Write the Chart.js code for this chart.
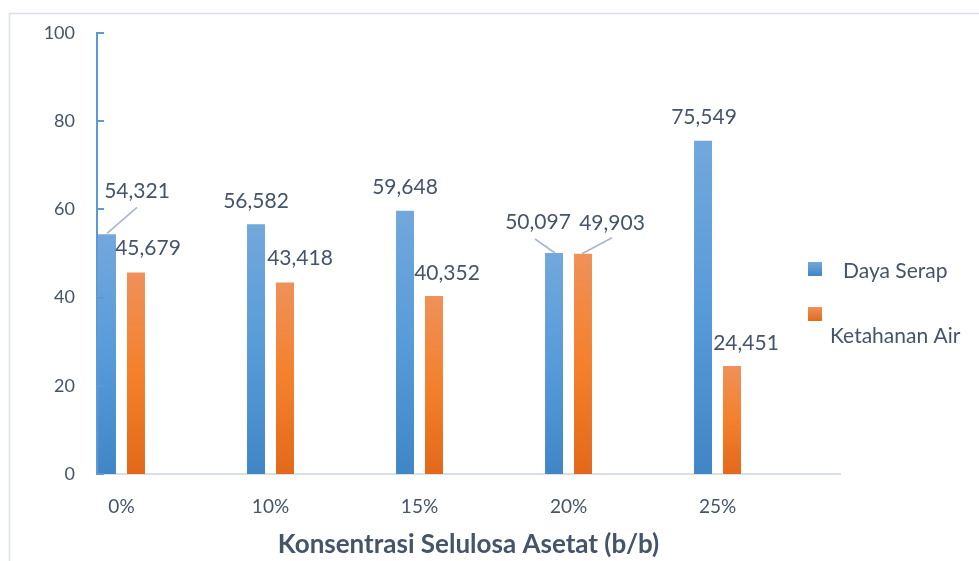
<!DOCTYPE html>
<html>
<head>
<meta charset="utf-8">
<title>Daya Serap dan Ketahanan Air</title>
<script src="https://cdn.jsdelivr.net/npm/chart.js@4.4.1/dist/chart.umd.min.js"></script>
<style>
  html, body { margin: 0; padding: 0; background: #fff; }
  #wrap { position: relative; width: 979px; height: 561px; }
</style>
</head>
<body>
<div id="wrap"><canvas id="absorbChart" width="979" height="561"></canvas></div>
<script>
const categories = ['0%', '10%', '15%', '20%', '25%'];
const dayaSerap = [54.321, 56.582, 59.648, 50.097, 75.549];
const ketahananAir = [45.679, 43.418, 40.352, 49.903, 24.451];
const yTicks = [0, 20, 40, 60, 80, 100];
const seriesNames = ['Daya Serap', 'Ketahanan Air'];

const textColor = '#44546a';
const axisBlue = '#5b9bd5';

// where each value label sits relative to the top centre of its bar
const labelOffsets = [
  [[30, -43], [0, -23], [0, -24], [-16, -31], [1, -23]],
  [[12, -24], [15, -24], [13, -23], [29, -31], [14, -23]]
];
// leader lines: [x1, y1, x2, y2] relative to the bar top centre
const leaderLines = [
  [[0, -1, 30, -27], null, null, [1, 0, -19, -14], null],
  [null, null, null, [-1, 0, 29, -16], null]
];

const fmt = v => v.toFixed(3).replace('.', ',');

function barFill(stops) {
  return (c) => {
    const chart = c.chart;
    if (!chart.chartArea || c.type !== 'data') return stops[1];
    const y = chart.scales.y;
    const top = y.getPixelForValue(c.raw.y);
    const bottom = y.getPixelForValue(0);
    const g = chart.ctx.createLinearGradient(0, top, 0, bottom);
    g.addColorStop(0, stops[0]);
    g.addColorStop(0.5, stops[1]);
    g.addColorStop(1, stops[2]);
    return g;
  };
}

const blueStops = ['#72a8dc', '#579bd9', '#4086c6'];
const orangeStops = ['#ef9159', '#f4802c', '#e2691a'];

const framePlugin = {
  id: 'frame',
  beforeDraw(chart) {
    const ctx = chart.ctx;
    ctx.save();
    ctx.fillStyle = '#fff';
    ctx.fillRect(0, 0, chart.width, chart.height);
    ctx.strokeStyle = '#dce2ea';
    ctx.lineWidth = 1.6;
    ctx.strokeRect(9.5, 13.5, 1100, 700);
    ctx.restore();
  }
};

const decorPlugin = {
  id: 'decor',
  afterDatasetsDraw(chart) {
    const ctx = chart.ctx;
    const y = chart.scales.y;
    const left = chart.chartArea.left;
    ctx.save();

    // inward tick marks on the value axis
    ctx.strokeStyle = axisBlue;
    ctx.lineWidth = 2;
    y.ticks.forEach(t => {
      const py = Math.round(y.getPixelForValue(t.value));
      ctx.beginPath();
      ctx.moveTo(left - 1, py);
      ctx.lineTo(left + 7, py);
      ctx.stroke();
    });

    // value labels and leader lines
    ctx.font = '21px Lato';
    ctx.fillStyle = textColor;
    ctx.textAlign = 'center';
    ctx.textBaseline = 'middle';
    chart.data.datasets.forEach((ds, di) => {
      chart.getDatasetMeta(di).data.forEach((bar, i) => {
        const [dx, dy] = labelOffsets[di][i];
        const ln = leaderLines[di][i];
        if (ln) {
          ctx.strokeStyle = '#a9b6c8';
          ctx.lineWidth = 1.6;
          ctx.beginPath();
          ctx.moveTo(bar.x + ln[0], bar.y + ln[1]);
          ctx.lineTo(bar.x + ln[2], bar.y + ln[3]);
          ctx.stroke();
        }
        ctx.fillText(fmt(ds.data[i].y), bar.x + dx, bar.y + dy);
      });
    });

    // legend on the right
    const sq = (x, yy, stops) => {
      const g = ctx.createLinearGradient(0, yy, 0, yy + 14);
      g.addColorStop(0, stops[0]);
      g.addColorStop(1, stops[2]);
      ctx.fillStyle = g;
      ctx.fillRect(x, yy, 14, 14);
    };
    sq(808, 262, blueStops);
    sq(808, 307, orangeStops);
    ctx.font = '21px Lato';
    ctx.fillStyle = textColor;
    ctx.textAlign = 'left';
    ctx.fillText(seriesNames[0], 843, 271);
    ctx.fillText(seriesNames[1], 830, 336);
    ctx.restore();
  }
};

new Chart(document.getElementById('absorbChart'), {
  type: 'bar',
  data: {
    datasets: [
      {
        label: seriesNames[0],
        data: dayaSerap.map((v, i) => ({ x: i, y: v })),
        backgroundColor: barFill(blueStops)
      },
      {
        label: seriesNames[1],
        data: ketahananAir.map((v, i) => ({ x: i, y: v })),
        backgroundColor: barFill(orangeStops)
      }
    ]
  },
  options: {
    responsive: false,
    animation: false,
    barPercentage: 0.62,
    categoryPercentage: 0.389,
    layout: { padding: { top: 30, right: 139, left: 0, bottom: 0 } },
    plugins: {
      legend: { display: false },
      tooltip: { enabled: false }
    },
    scales: {
      x: {
        type: 'linear',
        offset: false,
        min: -0.1644,
        max: 4.822,
        afterFit: s => { s.height = 87; },
        afterBuildTicks: s => { s.ticks = categories.map((c, i) => ({ value: i })); },
        grid: { display: false, drawTicks: false, offset: false },
        border: { color: '#d9dfe7', width: 2 },
        ticks: {
          autoSkip: false,
          maxRotation: 0,
          padding: 21,
          color: textColor,
          font: { family: 'Lato', size: 19 },
          callback: v => categories[v]
        },
        title: {
          display: true,
          text: 'Konsentrasi Selulosa Asetat (b/b)',
          color: textColor,
          font: { family: 'Lato', size: 26, weight: 'bold' },
          padding: { top: 2, bottom: 1 }
        }
      },
      y: {
        min: 0,
        max: 100,
        afterFit: s => { s.width = 97; },
        afterBuildTicks: s => { s.ticks = yTicks.map(v => ({ value: v })); },
        grid: { display: false, drawTicks: false },
        border: { color: axisBlue, width: 2 },
        ticks: {
          padding: 22,
          color: textColor,
          font: { family: 'Lato', size: 18 }
        }
      }
    }
  },
  plugins: [framePlugin, decorPlugin]
});
</script>
</body>
</html>
